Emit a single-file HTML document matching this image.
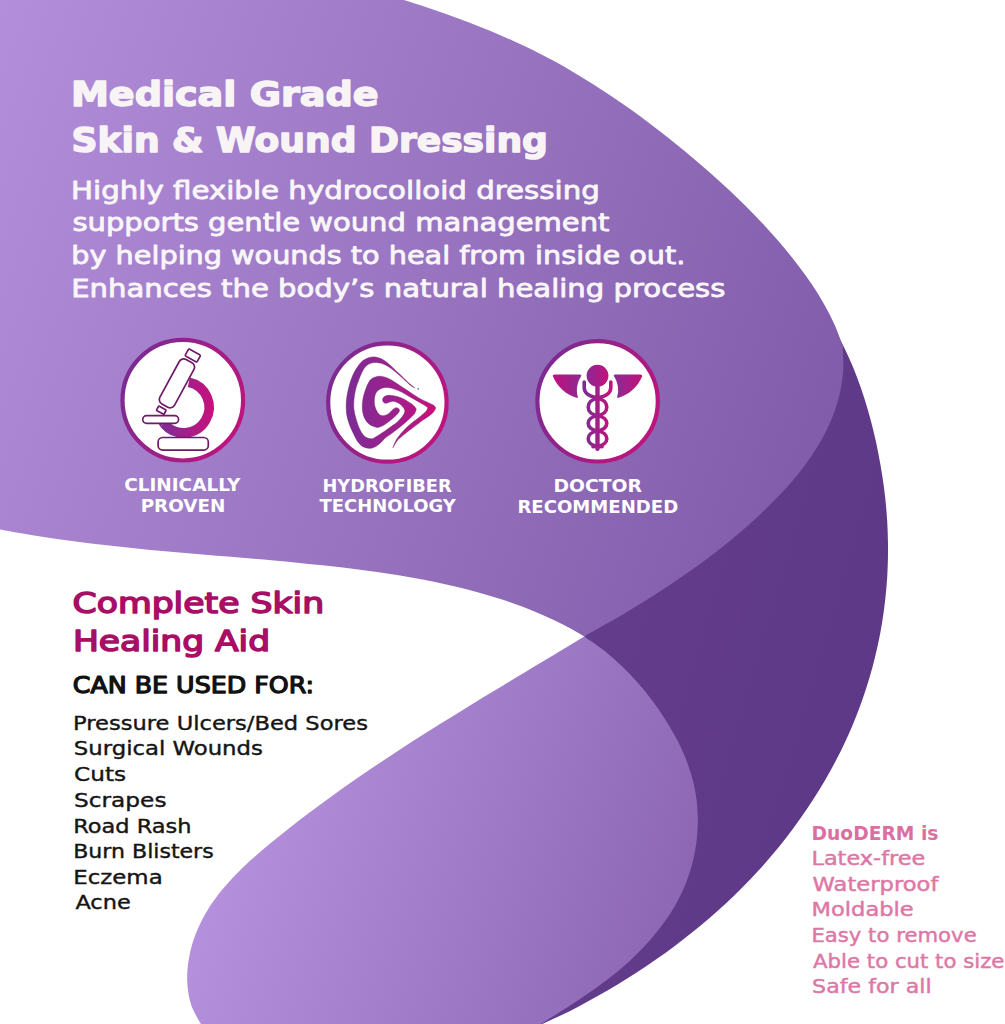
<!DOCTYPE html>
<html lang="en">
<head>
<meta charset="utf-8">
<title>DuoDERM Medical Grade Skin &amp; Wound Dressing</title>
<style>
html,body{margin:0;padding:0;background:#ffffff;}
body{width:1005px;height:1024px;overflow:hidden;position:relative;}
svg{display:block;position:absolute;left:0;top:0;}
text{font-family:"DejaVu Sans", "Liberation Sans", sans-serif;}
</style>
</head>
<body>
<svg width="1005" height="1024" viewBox="0 0 1005 1024">
<defs>
<linearGradient id="gA" gradientUnits="userSpaceOnUse" x1="0" y1="0" x2="941" y2="337">
<stop offset="0" stop-color="#b38fdb"/><stop offset="1" stop-color="#7d58a6"/>
</linearGradient>
<linearGradient id="gC" gradientUnits="userSpaceOnUse" x1="196" y1="959" x2="690.5" y2="1119.5">
<stop offset="0" stop-color="#b490dc"/><stop offset="1" stop-color="#8660ad"/>
</linearGradient>
<linearGradient id="gB" gradientUnits="userSpaceOnUse" x1="560" y1="600" x2="900" y2="700">
<stop offset="0" stop-color="#643e8c"/><stop offset="1" stop-color="#5d3886"/>
</linearGradient>
<linearGradient id="gR" x1="0" y1="0.25" x2="1" y2="0.75">
<stop offset="0" stop-color="#782c92"/><stop offset="1" stop-color="#c2127c"/>
</linearGradient>
</defs>
<rect width="1005" height="1024" fill="#ffffff"/>
<path d="M821.0 308.0 C823.0 311.2 829.4 320.5 833.2 327.0 C837.0 333.4 840.5 340.1 843.8 346.8 C847.1 353.5 850.2 360.3 853.1 367.2 C855.9 374.1 858.6 381.2 861.0 388.3 C863.5 395.3 865.8 402.5 867.8 409.8 C869.9 417.0 871.8 424.3 873.6 431.6 C875.4 438.9 877.0 446.3 878.4 453.7 C879.9 461.2 881.2 468.6 882.3 476.1 C883.5 483.5 884.5 491.0 885.3 498.5 C886.1 506.1 886.7 513.6 887.2 521.1 C887.6 528.6 887.9 536.2 888.0 543.7 C888.1 551.2 888.0 558.8 887.7 566.3 C887.5 573.8 887.0 581.3 886.3 588.8 C885.7 596.3 884.8 603.7 883.8 611.2 C882.8 618.6 881.6 626.0 880.2 633.4 C878.8 640.8 877.2 648.1 875.4 655.4 C873.7 662.7 871.7 670.0 869.6 677.2 C867.5 684.4 865.2 691.6 862.7 698.7 C860.3 705.8 857.6 712.8 854.8 719.8 C852.0 726.7 849.0 733.7 845.8 740.5 C842.7 747.3 839.3 754.1 835.8 760.8 C832.3 767.4 828.7 774.0 824.9 780.5 C821.0 787.0 817.1 793.5 813.0 799.8 C808.9 806.1 804.7 812.4 800.3 818.5 C796.0 824.7 791.5 830.8 786.9 836.7 C782.3 842.7 777.5 848.6 772.7 854.3 C767.9 860.1 762.9 865.7 757.8 871.3 C752.7 876.8 747.6 882.2 742.3 887.6 C737.0 892.9 731.6 898.1 726.1 903.2 C720.6 908.3 715.0 913.3 709.3 918.2 C703.6 923.1 697.8 927.9 692.0 932.6 C686.1 937.3 680.2 941.9 674.1 946.4 C668.1 950.9 662.0 955.3 655.9 959.6 C649.7 963.9 643.4 968.1 637.1 972.2 C630.8 976.3 624.4 980.3 618.0 984.2 C611.6 988.1 605.1 991.9 598.5 995.6 C592.0 999.3 585.3 1002.9 578.7 1006.4 C572.0 1009.9 565.3 1013.3 558.5 1016.5 C551.7 1019.8 541.4 1024.4 538.0 1026.0 L600 700 L584.2 636.4 L650 560 L780 430 L805 340 L812 306 Z" fill="url(#gB)"/>
<path d="M584.2 636.4 C580.8 638.5 570.6 644.6 563.9 648.7 C557.1 652.8 550.3 656.9 543.6 661.0 C536.8 665.1 530.0 669.1 523.3 673.2 C516.5 677.2 509.8 681.3 503.1 685.4 C496.3 689.4 489.6 693.5 482.9 697.6 C476.2 701.7 469.5 705.8 462.8 709.9 C456.1 714.0 449.4 718.1 442.8 722.3 C436.1 726.4 429.5 730.6 422.9 734.8 C416.3 739.0 409.7 743.3 403.1 747.5 C396.5 751.8 389.9 756.1 383.4 760.5 C376.9 764.8 370.4 769.2 363.9 773.6 C357.4 778.1 350.9 782.6 344.5 787.1 C338.0 791.7 331.6 796.3 325.2 800.9 C318.9 805.6 312.5 810.3 306.2 815.1 C299.8 819.9 293.6 824.7 287.3 829.7 C281.0 834.6 274.8 839.6 268.6 844.7 C262.5 849.8 256.4 855.0 250.5 860.3 C244.7 865.7 238.9 871.2 233.5 876.9 C228.2 882.6 223.0 888.4 218.3 894.6 C213.6 900.7 209.2 907.1 205.4 913.7 C201.6 920.4 198.2 927.3 195.5 934.6 C192.7 941.9 190.5 949.6 189.1 957.4 C187.7 965.2 186.9 973.4 187.2 981.3 C187.6 989.2 188.7 997.3 191.1 1004.7 C193.6 1012.2 200.2 1022.5 202.0 1026.0 L538 1026 C541.3 1023.9 551.3 1017.4 557.9 1013.2 C564.6 1008.9 571.2 1004.8 577.8 1000.4 C584.3 996.1 590.9 991.7 597.3 987.1 C603.7 982.5 610.0 977.7 616.1 972.7 C622.3 967.6 628.3 962.4 634.1 956.8 C639.8 951.3 645.4 945.5 650.6 939.5 C655.9 933.5 660.8 927.3 665.3 920.8 C669.9 914.3 674.1 907.6 677.7 900.7 C681.4 893.7 684.7 886.6 687.4 879.2 C690.1 871.8 692.3 864.2 694.0 856.5 C695.6 848.9 696.8 841.0 697.3 833.2 C697.9 825.3 698.0 817.4 697.4 809.5 C696.9 801.7 695.9 793.8 694.2 786.1 C692.6 778.5 690.3 770.9 687.6 763.4 C684.9 756.0 681.6 748.8 678.1 741.7 C674.5 734.6 670.4 727.6 666.2 720.9 C661.9 714.1 657.3 707.5 652.5 701.1 C647.8 694.7 642.8 688.5 637.5 682.6 C632.3 676.6 626.8 670.9 621.1 665.5 C615.4 660.0 609.5 654.8 603.4 650.0 C597.2 645.2 587.4 638.7 584.2 636.4 Z" fill="url(#gC)"/>
<path d="M0 -2 L396 -2 L403.9 0 C407.5 1.2 418.4 4.6 425.7 7.0 C433.0 9.5 440.2 11.9 447.5 14.5 C454.7 17.1 461.9 19.7 469.1 22.5 C476.3 25.2 483.5 28.1 490.6 31.0 C497.7 34.0 504.8 37.0 511.8 40.2 C518.8 43.3 525.8 46.6 532.7 50.0 C539.5 53.4 546.3 57.0 553.1 60.6 C559.8 64.3 566.5 68.0 573.1 71.9 C579.7 75.8 586.2 79.8 592.7 83.9 C599.2 87.9 605.6 92.1 611.9 96.4 C618.3 100.7 624.6 105.1 630.8 109.5 C637.1 114.0 643.2 118.5 649.4 123.2 C655.5 127.8 661.5 132.5 667.6 137.3 C673.6 142.0 679.5 146.9 685.5 151.8 C691.4 156.7 697.2 161.7 703.1 166.7 C708.9 171.7 714.6 176.8 720.3 182.0 C726.0 187.1 731.6 192.4 737.2 197.7 C742.7 203.0 748.1 208.4 753.5 213.9 C758.8 219.4 764.1 225.0 769.2 230.7 C774.4 236.4 779.4 242.1 784.3 248.0 C789.2 253.9 794.0 259.9 798.6 266.0 C803.2 272.1 807.8 278.3 812.0 284.6 C816.3 291.0 820.4 297.5 824.1 304.2 C827.9 310.8 831.4 317.7 834.5 324.6 C837.6 331.6 841.4 342.4 842.8 346.0 C842.9 350.1 843.7 362.7 843.2 370.8 C842.6 378.8 841.4 386.6 839.6 394.3 C837.8 402.0 835.4 409.4 832.5 416.7 C829.7 424.0 826.3 431.1 822.5 438.0 C818.7 444.9 814.4 451.7 809.9 458.2 C805.4 464.8 800.4 471.2 795.3 477.4 C790.1 483.7 784.7 489.7 779.1 495.6 C773.5 501.5 767.6 507.3 761.7 512.9 C755.8 518.5 749.8 523.9 743.7 529.2 C737.6 534.5 731.4 539.7 725.2 544.7 C718.9 549.8 712.5 554.7 706.1 559.5 C699.7 564.3 693.2 569.0 686.6 573.5 C680.1 578.1 673.4 582.6 666.8 587.0 C660.1 591.4 653.3 595.7 646.5 599.9 C639.7 604.2 632.9 608.3 626.0 612.4 C619.1 616.5 612.2 620.6 605.2 624.6 C598.2 628.6 587.7 634.4 584.2 636.4 C580.8 634.5 570.8 628.6 564.0 625.1 C557.2 621.6 550.2 618.3 543.2 615.2 C536.3 612.1 529.2 609.2 522.1 606.5 C514.9 603.8 507.7 601.3 500.5 599.0 C493.2 596.6 485.9 594.5 478.5 592.4 C471.2 590.4 463.8 588.5 456.3 586.8 C448.9 585.0 441.4 583.4 433.9 581.8 C426.4 580.3 418.9 578.9 411.3 577.5 C403.8 576.2 396.2 575.0 388.6 573.8 C381.0 572.6 373.4 571.5 365.8 570.5 C358.2 569.5 350.6 568.5 342.9 567.6 C335.3 566.7 327.6 565.8 320.0 565.0 C312.3 564.2 304.7 563.5 297.0 562.7 C289.4 562.0 281.7 561.3 274.0 560.6 C266.4 559.9 258.7 559.2 251.1 558.6 C243.4 557.9 235.8 557.3 228.1 556.6 C220.5 556.0 212.9 555.4 205.2 554.7 C197.6 554.1 190.0 553.4 182.3 552.8 C174.7 552.1 167.1 551.4 159.4 550.7 C151.8 550.0 144.2 549.3 136.6 548.5 C129.0 547.7 121.4 546.9 113.7 546.1 C106.1 545.3 98.5 544.4 90.9 543.5 C83.3 542.5 75.7 541.6 68.2 540.5 C60.6 539.5 53.0 538.4 45.4 537.2 C37.8 536.1 30.3 534.9 22.7 533.5 C15.1 532.2 3.8 530.1 0.0 529.4 Z" fill="url(#gA)"/>
<g id="icons">
<defs>
<linearGradient id="gL" gradientUnits="userSpaceOnUse" x1="346" y1="0" x2="436" y2="0"><stop offset="0" stop-color="#7a2c96"/><stop offset="0.55" stop-color="#a01f8c"/><stop offset="1" stop-color="#d10c78"/></linearGradient>
<linearGradient id="gM" gradientUnits="userSpaceOnUse" x1="155" y1="0" x2="214" y2="0"><stop offset="0" stop-color="#76309a"/><stop offset="1" stop-color="#c8107b"/></linearGradient>
<linearGradient id="gS" gradientUnits="userSpaceOnUse" x1="584" y1="0" x2="611" y2="0"><stop offset="0" stop-color="#7b2c95"/><stop offset="1" stop-color="#c4127c"/></linearGradient>
<linearGradient id="gK" x1="0" y1="0" x2="1" y2="0"><stop offset="0" stop-color="#8a2893"/><stop offset="1" stop-color="#c4127c"/></linearGradient>
<linearGradient id="gWl" x1="0" y1="0" x2="1" y2="0"><stop offset="0" stop-color="#c10f7c"/><stop offset="1" stop-color="#8c2a94"/></linearGradient>
<linearGradient id="gWr" x1="0" y1="0" x2="1" y2="0"><stop offset="0" stop-color="#8a2c96"/><stop offset="1" stop-color="#c4117a"/></linearGradient>
</defs>
<circle cx="182.8" cy="400.2" r="60.3" fill="#ffffff" stroke="url(#gR)" stroke-width="4.2"/>
<circle cx="387.4" cy="402.5" r="59.2" fill="#ffffff" stroke="url(#gR)" stroke-width="4.2"/>
<circle cx="597.6" cy="401.3" r="60.2" fill="#ffffff" stroke="url(#gR)" stroke-width="4.2"/>
<g><path d="M188.8 382.2 A25.6 25.6 0 1 1 163.9 423.7" fill="none" stroke="url(#gM)" stroke-width="9.6"/><path d="M160.2 426.7 L156.2 418.2 L167.6 420.6 Z" fill="#7a2c95"/><rect x="168.6" y="358.0" width="16.7" height="50.6" rx="5" transform="rotate(28.5 176.9 383.3)" fill="#ffffff" stroke="#6e1a66" stroke-width="1.7"/><rect x="186.0" y="351.5" width="13.6" height="8" rx="1.2" transform="rotate(28.5 192.8 355.5)" fill="#ffffff" stroke="#6e1a66" stroke-width="1.7"/><rect x="157.0" y="407.7" width="8.6" height="5" rx="0.8" transform="rotate(28.5 161.3 410.2)" fill="#ffffff" stroke="#6e1a66" stroke-width="1.7"/><rect x="142.7" y="415.6" width="35.9" height="7.8" rx="3.9" fill="#ffffff" stroke="#6e1a66" stroke-width="1.7"/><rect x="158.1" y="437.5" width="50.2" height="12.6" rx="4.6" fill="#ffffff" stroke="#6e1a66" stroke-width="1.7"/></g>
<g fill="url(#gL)" stroke="#6b1a68" stroke-width="0.45" stroke-linejoin="round"><path d="M414.7 387.8 C413.9 387.2 412.6 386.5 410.0 384.1 C407.4 381.8 402.8 377.1 399.2 373.7 C395.6 370.3 391.6 366.3 388.7 363.9 C385.8 361.5 384.1 360.2 381.8 359.1 C379.5 358.0 377.1 357.2 374.8 357.0 C372.5 356.8 370.2 357.1 367.9 358.0 C365.6 358.9 363.2 360.0 360.9 362.5 C358.6 365.0 355.9 369.1 353.9 373.0 C351.9 376.9 350.3 381.9 349.1 386.2 C347.9 390.5 347.1 394.9 346.6 398.7 C346.1 402.5 346.2 406.1 346.3 409.2 C346.4 412.2 346.6 414.4 347.2 417.0 C347.8 419.6 348.5 422.0 349.6 425.0 C350.8 428.0 352.6 431.9 354.1 434.9 C355.6 437.9 356.9 440.8 358.6 442.8 C360.3 444.9 361.9 446.3 364.2 447.2 C366.4 448.1 369.5 448.7 372.1 448.1 C374.7 447.5 377.8 445.1 379.9 443.5 C382.0 441.9 382.6 440.2 385.0 438.2 C387.4 436.2 391.1 433.9 394.4 431.3 C397.7 428.8 401.6 425.7 404.8 422.9 C408.0 420.1 411.9 416.9 413.8 414.6 C415.7 412.3 415.9 409.9 416.3 409.0 C415.6 408.2 414.3 406.0 411.8 404.1 C409.3 402.2 404.8 399.3 401.3 397.9 C397.8 396.4 393.7 395.6 390.9 395.4 C388.1 395.2 385.9 395.8 384.5 396.6 C383.1 397.4 382.4 399.1 382.6 400.2 C382.8 401.3 383.8 403.1 385.5 403.3 C387.2 403.5 390.6 401.2 393.0 401.3 C395.4 401.4 398.0 402.7 399.9 404.1 C401.8 405.5 404.0 407.9 404.6 409.7 C405.2 411.4 404.7 412.6 403.6 414.6 C402.5 416.6 400.6 419.1 397.9 421.5 C395.2 423.9 390.9 426.8 387.4 429.2 C383.9 431.6 379.7 434.6 377.0 436.2 C374.3 437.8 373.1 438.8 371.0 438.8 C368.9 438.8 366.2 437.8 364.2 436.0 C362.2 434.2 360.6 431.1 359.2 428.1 C357.8 425.1 356.7 421.1 355.8 418.0 C354.9 414.9 354.2 412.2 353.9 409.2 C353.6 406.2 353.6 403.5 353.9 400.1 C354.2 396.7 354.8 392.7 355.7 389.0 C356.6 385.3 358.1 381.4 359.5 377.9 C360.9 374.4 362.7 370.5 364.4 368.1 C366.1 365.7 367.9 364.5 369.9 363.6 C371.9 362.7 374.0 362.4 376.2 362.5 C378.4 362.6 380.9 363.0 383.2 363.9 C385.5 364.8 387.4 365.9 390.1 367.8 C392.8 369.7 395.9 372.2 399.2 375.1 C402.5 378.0 407.4 382.8 410.0 384.9 C412.6 387.0 413.9 387.3 414.7 387.8Z"/><path d="M392.9 447.8 C393.6 446.6 395.9 442.5 397.4 440.6 C398.8 438.7 399.2 438.6 401.6 436.6 C404.0 434.6 408.2 431.2 411.8 428.5 C415.4 425.8 419.5 422.6 422.9 420.1 C426.3 417.6 430.0 415.4 432.2 413.4 C434.4 411.4 435.2 408.9 435.8 408.0 C435.3 407.5 435.6 406.5 432.7 404.8 C429.8 403.1 423.3 400.6 418.7 397.9 C414.1 395.2 409.4 391.8 404.8 388.8 C400.2 385.8 394.7 381.8 390.9 379.7 C387.1 377.6 384.5 376.8 381.8 376.4 C379.1 376.0 376.8 376.5 374.8 377.2 C372.8 377.9 371.4 378.6 369.9 380.6 C368.4 382.6 366.9 386.0 365.8 389.0 C364.7 392.0 363.6 395.5 363.0 398.7 C362.4 401.9 362.2 405.1 362.3 408.0 C362.4 410.9 362.9 413.6 363.7 416.0 C364.5 418.4 366.0 420.9 367.4 422.5 C368.8 424.1 370.3 425.0 372.0 425.8 C373.7 426.6 375.7 427.4 377.5 427.4 C379.3 427.3 381.1 426.5 383.0 425.5 C384.9 424.5 386.7 423.2 388.9 421.5 C391.1 419.8 394.4 417.1 396.2 415.3 C397.9 413.6 399.0 412.1 399.4 411.0 C399.8 409.9 398.9 408.9 398.3 408.4 C397.7 407.9 396.5 407.7 395.6 407.9 C394.7 408.1 394.4 408.3 393.0 409.4 C391.6 410.5 389.5 413.4 387.4 414.4 C385.3 415.4 382.3 416.2 380.4 415.3 C378.5 414.4 376.8 411.3 375.8 409.0 C374.8 406.7 374.3 403.9 374.3 401.3 C374.3 398.7 374.7 395.5 375.7 393.4 C376.7 391.3 378.4 389.9 380.4 388.9 C382.3 387.9 384.5 387.3 387.4 387.5 C390.3 387.7 393.8 388.6 397.9 390.3 C402.0 392.0 407.6 395.6 411.8 397.9 C416.0 400.2 420.2 402.6 422.9 404.2 C425.6 405.8 427.0 407.0 427.8 407.6 C427.5 408.3 427.4 409.9 425.9 411.6 C424.4 413.3 421.6 415.4 418.7 417.8 C415.8 420.2 411.5 423.0 408.3 425.9 C405.1 428.8 401.8 432.5 399.6 435.2 C397.4 437.9 396.3 439.9 395.2 442.0 C394.1 444.1 393.3 446.8 392.9 447.8Z"/></g><circle cx="418.2" cy="388.8" r="0.9" fill="#8a5a8c"/>
<g><path d="M554.9 374.6 L579.8 374.6 Q582.0 374.6 581.1 376.3 C577.0 382.8 575.9 390.5 577.8 396.8 Q578.2 398.4 576.7 397.8 C566.9 395.4 557.0 386.7 552.9 376.3 Q552.4 374.6 554.9 374.6 Z" fill="url(#gWl)"/><path d="M640.2 374.6 L615.3 374.6 Q613.1 374.6 614.0 376.3 C618.1 382.8 619.2 390.5 617.2 396.8 Q616.9 398.4 618.3 397.8 C628.2 395.4 638.0 386.7 642.2 376.3 Q642.6 374.6 640.2 374.6 Z" fill="url(#gWr)"/><circle cx="597.5" cy="375.7" r="10.9" fill="url(#gK)"/><path d="M597.5 384.1 L597.5 448.7" stroke="url(#gS)" stroke-width="4.4" stroke-linecap="round" fill="none"/><path d="M610.8 382.0 L610.8 387.8 C610.8 394.9 602.5 396.5 597.5 398.2 C585.1 400.3 585.1 413.6 597.5 415.7 C609.9 417.5 609.9 429.2 597.5 431.0 C585.1 432.8 585.1 444.5 597.5 446.3 L602.0 446.6" fill="none" stroke="url(#gS)" stroke-width="3.6" stroke-linecap="round" stroke-linejoin="round"/><path d="M584.2 382.0 L584.2 387.8 C584.2 394.9 592.5 396.5 597.5 398.2 C609.9 400.3 609.9 413.6 597.5 415.7 C585.1 417.5 585.1 429.2 597.5 431.0 C609.9 432.8 609.9 444.5 597.5 446.3 L593.0 446.6" fill="none" stroke="url(#gS)" stroke-width="3.6" stroke-linecap="round" stroke-linejoin="round"/></g>
</g>

<text x="70.9" y="105.7" font-size="34.2" font-weight="bold" fill="#f8f4f6" stroke="#f8f4f6" stroke-width="1.50" stroke-linejoin="round" textLength="307.7" lengthAdjust="spacingAndGlyphs">Medical Grade</text>
<text x="71.6" y="152.0" font-size="34.2" font-weight="bold" fill="#f8f4f6" stroke="#f8f4f6" stroke-width="1.50" stroke-linejoin="round" textLength="476.3" lengthAdjust="spacingAndGlyphs">Skin &amp; Wound Dressing</text>
<text x="71.1" y="198.5" font-size="25.6" font-weight="normal" fill="#f9f6f8" stroke="#f9f6f8" stroke-width="0.85" stroke-linejoin="round" textLength="528.7" lengthAdjust="spacingAndGlyphs">Highly flexible hydrocolloid dressing</text>
<text x="72.4" y="231.2" font-size="25.6" font-weight="normal" fill="#f9f6f8" stroke="#f9f6f8" stroke-width="0.85" stroke-linejoin="round" textLength="537.1" lengthAdjust="spacingAndGlyphs">supports gentle wound management</text>
<text x="71.3" y="263.8" font-size="25.6" font-weight="normal" fill="#f9f6f8" stroke="#f9f6f8" stroke-width="0.85" stroke-linejoin="round" textLength="614.0" lengthAdjust="spacingAndGlyphs">by helping wounds to heal from inside out.</text>
<text x="71.2" y="297.0" font-size="25.6" font-weight="normal" fill="#f9f6f8" stroke="#f9f6f8" stroke-width="0.85" stroke-linejoin="round" textLength="654.2" lengthAdjust="spacingAndGlyphs">Enhances the body’s natural healing process</text>
<text x="124.2" y="490.8" font-size="17.8" font-weight="bold" fill="#ffffff" textLength="116.2" lengthAdjust="spacingAndGlyphs">CLINICALLY</text>
<text x="140.7" y="511.7" font-size="17.8" font-weight="bold" fill="#ffffff" textLength="84.7" lengthAdjust="spacingAndGlyphs">PROVEN</text>
<text x="322.5" y="492.2" font-size="17.8" font-weight="bold" fill="#ffffff" textLength="129.1" lengthAdjust="spacingAndGlyphs">HYDROFIBER</text>
<text x="319.5" y="512.1" font-size="17.8" font-weight="bold" fill="#ffffff" textLength="136.3" lengthAdjust="spacingAndGlyphs">TECHNOLOGY</text>
<text x="553.4" y="491.9" font-size="17.8" font-weight="bold" fill="#ffffff" textLength="88.5" lengthAdjust="spacingAndGlyphs">DOCTOR</text>
<text x="517.4" y="512.8" font-size="17.8" font-weight="bold" fill="#ffffff" textLength="160.8" lengthAdjust="spacingAndGlyphs">RECOMMENDED</text>
<text x="72.5" y="613.3" font-size="28.3" font-weight="normal" fill="#a80e66" stroke="#a80e66" stroke-width="1.50" stroke-linejoin="round" textLength="251.6" lengthAdjust="spacingAndGlyphs">Complete Skin</text>
<text x="72.9" y="650.5" font-size="28.3" font-weight="normal" fill="#a80e66" stroke="#a80e66" stroke-width="1.50" stroke-linejoin="round" textLength="197.2" lengthAdjust="spacingAndGlyphs">Healing Aid</text>
<text x="72.8" y="692.5" font-size="23.0" font-weight="normal" fill="#111111" stroke="#111111" stroke-width="1.25" stroke-linejoin="round" textLength="241.2" lengthAdjust="spacingAndGlyphs">CAN BE USED FOR:</text>
<text x="73.1" y="729.8" font-size="20.0" font-weight="normal" fill="#151515" stroke="#151515" stroke-width="0.40" stroke-linejoin="round" textLength="294.8" lengthAdjust="spacingAndGlyphs">Pressure Ulcers/Bed Sores</text>
<text x="73.8" y="755.1" font-size="20.0" font-weight="normal" fill="#151515" stroke="#151515" stroke-width="0.40" stroke-linejoin="round" textLength="189.1" lengthAdjust="spacingAndGlyphs">Surgical Wounds</text>
<text x="74.1" y="781.2" font-size="20.0" font-weight="normal" fill="#151515" stroke="#151515" stroke-width="0.40" stroke-linejoin="round" textLength="52.0" lengthAdjust="spacingAndGlyphs">Cuts</text>
<text x="74.0" y="806.6" font-size="20.0" font-weight="normal" fill="#151515" stroke="#151515" stroke-width="0.40" stroke-linejoin="round" textLength="92.5" lengthAdjust="spacingAndGlyphs">Scrapes</text>
<text x="73.2" y="832.6" font-size="20.0" font-weight="normal" fill="#151515" stroke="#151515" stroke-width="0.40" stroke-linejoin="round" textLength="118.4" lengthAdjust="spacingAndGlyphs">Road Rash</text>
<text x="73.2" y="858.3" font-size="20.0" font-weight="normal" fill="#151515" stroke="#151515" stroke-width="0.40" stroke-linejoin="round" textLength="140.5" lengthAdjust="spacingAndGlyphs">Burn Blisters</text>
<text x="73.2" y="883.7" font-size="20.0" font-weight="normal" fill="#151515" stroke="#151515" stroke-width="0.40" stroke-linejoin="round" textLength="89.5" lengthAdjust="spacingAndGlyphs">Eczema</text>
<text x="75.4" y="909.0" font-size="20.0" font-weight="normal" fill="#151515" stroke="#151515" stroke-width="0.40" stroke-linejoin="round" textLength="55.4" lengthAdjust="spacingAndGlyphs">Acne</text>
<text x="811.6" y="839.5" font-size="20.0" font-weight="bold" fill="#db6fa2" textLength="126.8" lengthAdjust="spacingAndGlyphs">DuoDERM is</text>
<text x="811.4" y="865.2" font-size="19.5" font-weight="normal" fill="#dd77a6" stroke="#dd77a6" stroke-width="0.45" stroke-linejoin="round" textLength="114.0" lengthAdjust="spacingAndGlyphs">Latex-free</text>
<text x="812.6" y="890.9" font-size="19.5" font-weight="normal" fill="#dd77a6" stroke="#dd77a6" stroke-width="0.45" stroke-linejoin="round" textLength="125.8" lengthAdjust="spacingAndGlyphs">Waterproof</text>
<text x="811.5" y="916.3" font-size="19.5" font-weight="normal" fill="#dd77a6" stroke="#dd77a6" stroke-width="0.45" stroke-linejoin="round" textLength="102.2" lengthAdjust="spacingAndGlyphs">Moldable</text>
<text x="811.4" y="942.0" font-size="19.5" font-weight="normal" fill="#dd77a6" stroke="#dd77a6" stroke-width="0.45" stroke-linejoin="round" textLength="165.3" lengthAdjust="spacingAndGlyphs">Easy to remove</text>
<text x="813.1" y="967.7" font-size="19.5" font-weight="normal" fill="#dd77a6" stroke="#dd77a6" stroke-width="0.45" stroke-linejoin="round" textLength="191.3" lengthAdjust="spacingAndGlyphs">Able to cut to size</text>
<text x="812.1" y="992.9" font-size="19.5" font-weight="normal" fill="#dd77a6" stroke="#dd77a6" stroke-width="0.45" stroke-linejoin="round" textLength="119.5" lengthAdjust="spacingAndGlyphs">Safe for all</text>
</svg>
</body>
</html>
